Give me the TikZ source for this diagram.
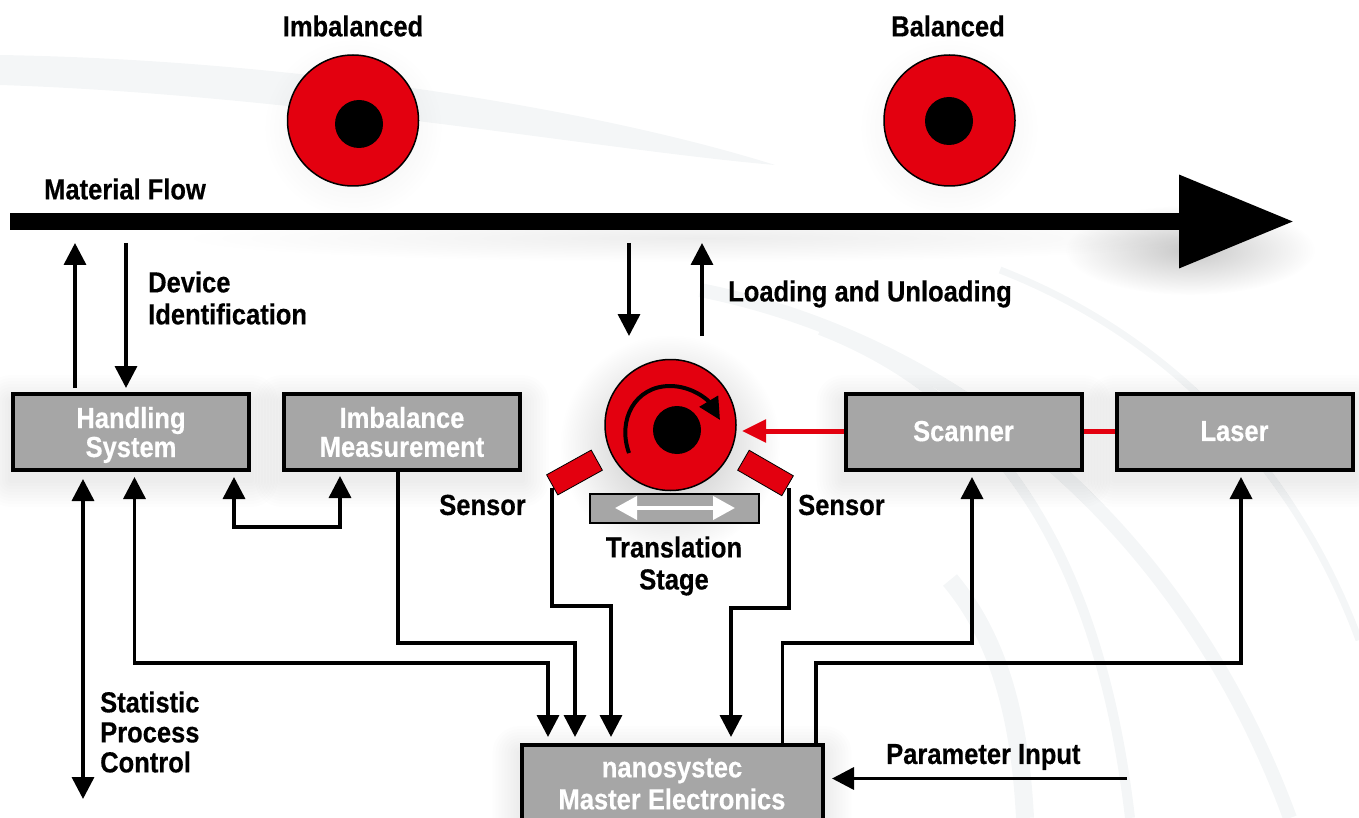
\documentclass[tikz,border=0pt]{standalone}
\usepackage{fontspec}
\setmainfont[FakeStretch=0.88,FakeBold=0.4]{Liberation Sans}
\usepackage{tikz}
\usetikzlibrary{arrows.meta,positioning,calc,backgrounds,fadings}
\definecolor{discred}{HTML}{E3000F}
\definecolor{boxgray}{HTML}{A6A6A6}
\definecolor{swoosh}{HTML}{F4F6F7}
\tikzfading[name=softglow,inner color=transparent!0,outer color=transparent!100]
\tikzset{x=1pt,y=-1pt,>={Triangle[length=22pt,width=22pt]},
  link/.style={draw,line width=3.5pt},
  unit/.style={draw,line width=4pt,fill=boxgray,text=white,minimum width=236pt,minimum height=76pt,inner sep=0pt,align=center,font=\fontsize{29}{29}\selectfont\bfseries},
  caption/.style={inner sep=0pt,align=left,font=\fontsize{29}{30}\selectfont\bfseries},
  disc/.style={circle,draw,line width=1.5pt,fill=discred,minimum size=131pt,inner sep=0pt},
  hub/.style={circle,fill=black,minimum size=48pt,inner sep=0pt},
  sensorbar/.style={draw,line width=.8pt,fill=discred,minimum width=51pt,minimum height=23pt,inner sep=0pt},
  halo/.style={fill=black,path fading=softglow}}

\begin{document}
\begin{tikzpicture}
  \useasboundingbox (0,0) rectangle (1359,818);
  \clip (0,0) rectangle (1359,818);

  % material flow
  \coordinate (flowstart) at (10,221.5);
  \coordinate (flowend) at (1294,221.5);
  \draw[line width=17pt,-{Triangle[length=115pt,width=89pt]}] (flowstart) -- (flowend);

  % units
  \node[unit] (handling) at (131,432) {Handling\\\smash{System}};
  \node[unit,right=31pt of handling] (imbalance) {Imbalance\\Measurement};
  \node[unit] (scanner) at (963.5,432) {\raisebox{2pt}{Scanner}};
  \node[unit,right=31pt of scanner] (laser) {\raisebox{2pt}{Laser}};
  \node[unit,anchor=north,minimum width=301pt,minimum height=78pt] (master) at (672,743) {nanosystec\\[3pt]Master Electronics};

  % discs
  \node[disc] (discleft) at (353,120.5) {};
  \node[hub] at (359,124) (hubleft) {};
  \node[disc] (discright) at (949.5,120.5) {};
  \node[hub] at (949,121) (hubright) {};
  \node[disc] (rotor) at (670.5,425) {};
  \node[hub] at (677,430) (rotorhub) {};
  \coordinate (spinstart) at (629,453);
  \coordinate (spintop) at (670,386);
  \coordinate (spinend) at (720,420);
  \draw[line width=4pt,-{Triangle[length=22pt,width=21pt]}] (spinstart) .. controls (617,420) and (635,386) .. (spintop) .. controls (692,386) and (708,400) .. (spinend);

  \node[sensorbar,rotate=29] (sensorleft) at (574.5,472.5) {};
  \node[sensorbar,rotate=-30] (sensorright) at (765.5,473) {};
  \node[draw,line width=2pt,fill=boxgray,minimum width=169pt,minimum height=29pt,inner sep=0pt] (stage) at (674,508) {};
  \coordinate (stageleft) at (615,508);
  \coordinate (stageright) at (735,508);
  \draw[white,line width=4pt,{Triangle[length=22pt,width=23pt]}-{Triangle[length=22pt,width=23pt]}] (stageleft) -- (stageright);

  % red beam
  \draw[discred,line width=5pt,-{Triangle[length=24pt,width=22pt]}] (scanner.west |- 0,431) -- (742,431);
  \draw[discred,line width=5pt] (scanner.east |- 0,431) -- (laser.west |- 0,431);

  % labels
  \node[caption] (imbalancedtext) at (353,26) {Imbalanced};
  \node[caption] (balancedtext) at (948,26) {Balanced};
  \node[caption,anchor=west] (flowtext) at (44,189) {Material Flow};
  \node[caption,anchor=west] (idtext) at (148,298) {Device\\[2pt]Identification};
  \node[caption,anchor=west] (loadtext) at (728,294) {Loading and Unloading};
  \node[caption,anchor=east] (sensortextl) at (526,505) {Sensor};
  \node[caption,anchor=west] (sensortextr) at (798,505) {Sensor};
  \node[caption,align=center] (stagetext) at (674,566) {Translation\\[2pt]Stage};
  \node[caption,anchor=west] (spctext) at (100,732) {Statistic\\Process\\Control};
  \node[caption,anchor=west] (paramtext) at (886,757) {Parameter Input};

  % free ends and way points
  \coordinate (flowa) at (75,243);
  \coordinate (flowb) at (126,243);
  \coordinate (flowc) at (629,243);
  \coordinate (flowd) at (702,243);
  \coordinate (loadc) at (629,336);
  \coordinate (loadd) at (702,336);
  \coordinate (spcend) at (83,799);
  \coordinate (paramend) at (1127,778.5);

  \draw[link,->,shorten <=4pt] (flowa |- handling.north) -- (flowa);
  \draw[link,->,shorten >=4pt] (flowb) -- (flowb |- handling.north);
  \draw[link,->] (flowc) -- (loadc);
  \draw[link,->] (loadd) -- (flowd);
  \draw[link,<->] (83,479) -- (spcend);
  \draw[link,<->] (234,477) |- (340,527) -- (340,476);
  \draw[link,<->] (134.5,477) |- (548,663) -- (548,737);
  \draw[link,->] (imbalance.south -| 398,0) |- (575,643) -- (575,737);
  \draw[link,->] (552,488) |- (611,606) -- (611,737);
  \draw[link,->] (789,488) |- (731,608) -- (731,737);
  \draw[link,->] (782.5,743) |- (972,643) -- (972,477);
  \draw[link,->] (816,743) |- (1241,663) -- (1241,477);
  \draw[link,->] (paramend) -- (832,778.5);

  \begin{pgfonlayer}{background}
    \clip (0,0) rectangle (1359,818);
    % background swooshes
    \fill[swoosh] (0,55) .. controls (300,60) and (600,110) .. (775,165) .. controls (600,150) and (300,95) .. (0,85) -- cycle;
    \draw[swoosh,line width=14pt] (700,290) .. controls (950,340) and (1180,520) .. (1290,818);
    \draw[swoosh,line width=10pt] (820,330) .. controls (1000,400) and (1100,560) .. (1130,818);
    \draw[swoosh,line width=7pt] (1000,270) .. controls (1180,340) and (1300,480) .. (1359,640);
    \draw[swoosh,line width=18pt] (950,580) .. controls (1000,640) and (1020,720) .. (1025,818);
    % soft shadows
    \foreach \unit in {handling,imbalance,scanner,laser,master}
      \foreach \s in {3,6,...,27}
        \fill[black,opacity=.009,rounded corners=\s pt] ($(\unit.north west)+(-\s,-\s+10)$) rectangle ($(\unit.south east)+(\s,\s+8)$);
    \fill[halo,opacity=.25] (670,445) circle (110);
    \fill[halo,opacity=.08] (353,128) circle (90);
    \fill[halo,opacity=.08] (949,128) circle (90);
    \fill[halo,opacity=.22] (1190,250) ellipse (125 and 45);
    \fill[halo,opacity=.07] (700,238) ellipse (520 and 24);
  \end{pgfonlayer}
\end{tikzpicture}
\end{document}
